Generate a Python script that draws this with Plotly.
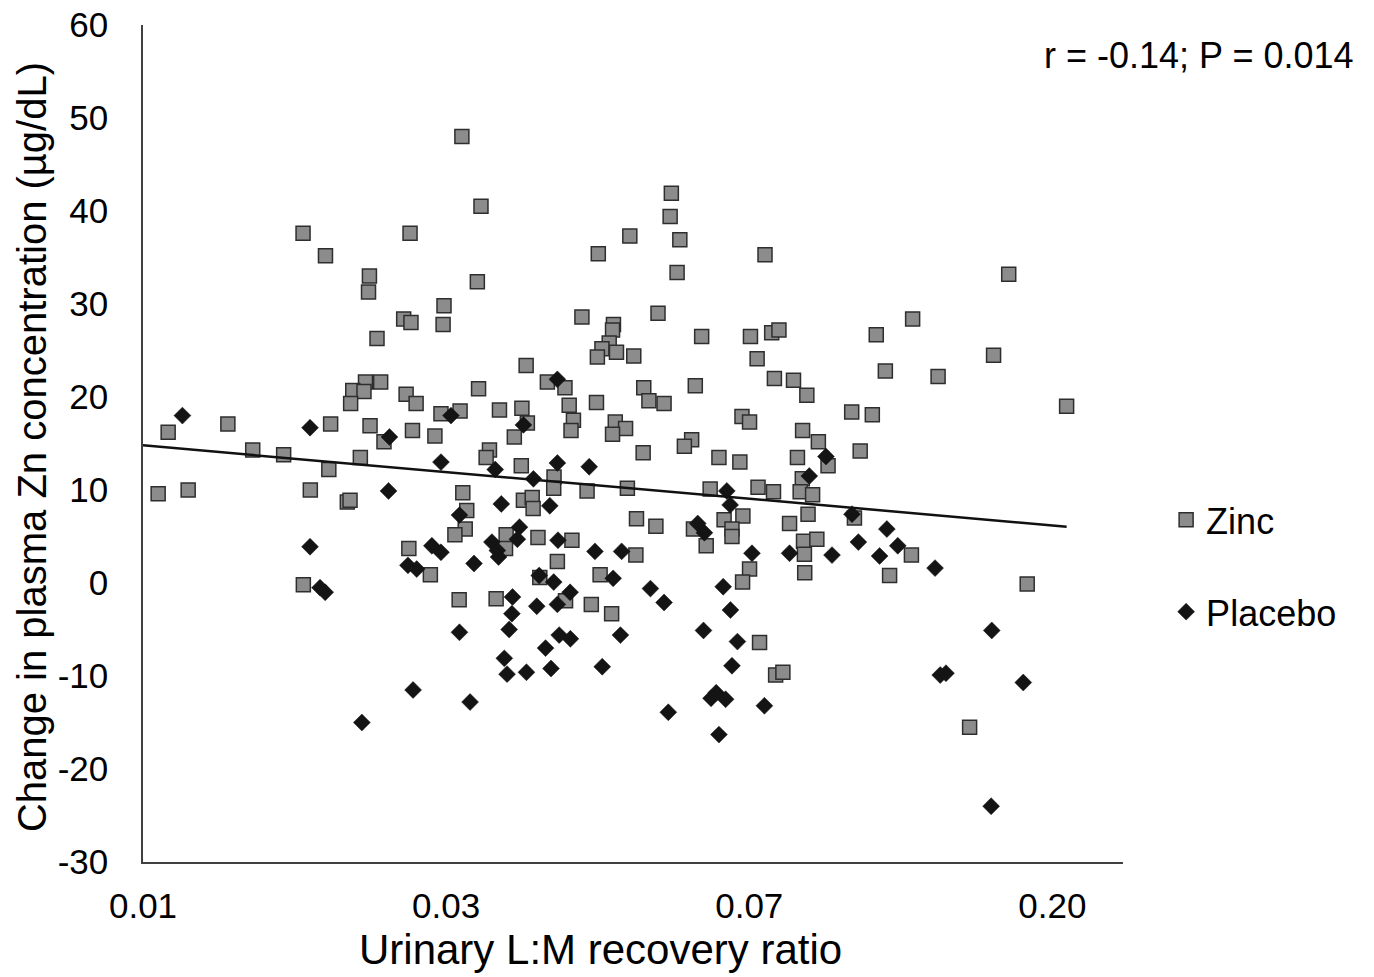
import plotly.graph_objects as go

# x values are positions on the chart's L:M axis scale (tick index: 0 -> 0.01, 1 -> 0.03, 2 -> 0.07, 3 -> 0.20)
tick_pos = [0, 1, 2, 3]
tick_text = ["0.01", "0.03", "0.07", "0.20"]
y_tick_vals = [-30, -20, -10, 0, 10, 20, 30, 40, 50, 60]
y_tick_text = ["-30", "-20", "-10", "0", "10", "20", "30", "40", "50", "60"]

zinc_x = [1.052, 0.528, 0.881, 0.602, 0.747, 0.744, 0.993, 0.860, 0.884, 0.990,
          0.772, 0.734, 0.784, 0.692, 0.729, 0.685, 0.868, 0.901, 0.983, 1.046,
          0.083, 0.280, 0.619, 0.749, 0.795, 0.889, 0.963, 0.362, 0.464, 0.613,
          0.717, 0.050, 0.149, 0.552, 0.674, 0.683, 1.055, 1.068, 1.063, 1.029,
          0.877, 0.948, 0.529, 1.043,
          1.115, 1.103, 1.743, 1.739, 1.606, 1.771, 1.502, 2.052, 1.762, 1.448,
          1.699, 1.552, 1.549, 1.538, 1.514, 1.499, 1.562, 1.619, 1.843, 2.004,
          2.074, 2.098, 2.026, 2.083, 1.264, 1.107, 1.176, 1.250, 1.334, 1.392,
          1.406, 1.420, 1.412, 1.496, 1.652, 1.669, 1.719, 1.822, 1.558, 1.592,
          1.549, 1.268, 1.225, 1.650, 1.810, 1.786, 1.976, 2.001, 1.900, 1.969,
          1.143, 1.132, 1.248, 1.356,
          1.355, 1.255, 1.284, 1.287, 1.465, 1.598, 1.871, 2.029, 2.080, 1.628,
          1.692, 1.816, 1.917, 1.979, 1.943, 1.943, 1.858, 2.133, 1.198, 1.196,
          1.303, 1.415, 1.367, 1.626, 1.508, 1.309, 2.001, 1.978, 1.165, 1.394,
          1.479, 1.546, 2.034, 2.087, 2.111,
          2.856, 2.539, 2.419, 2.806, 2.449, 2.623, 2.146, 2.190, 2.338, 2.406,
          3.047, 2.176, 2.228, 2.159, 2.260, 2.366, 2.175, 2.168, 2.209, 2.194,
          2.347, 2.179, 2.223, 2.182, 2.183, 2.535, 2.463, 2.917, 2.727]
zinc_y = [48.0, 37.6, 37.6, 35.2, 33.0, 31.3, 29.8, 28.4, 28.0, 27.8,
          26.3, 21.6, 21.6, 20.7, 20.6, 19.3, 20.3, 19.3, 18.2, 18.5,
          16.2, 17.1, 17.1, 16.9, 15.2, 16.4, 15.8, 14.3, 13.8, 12.2,
          13.5, 9.6, 10.0, 10.0, 8.7, 8.9, 9.7, 7.8, 5.8, 5.2,
          3.7, 0.9, -0.2, -1.8,
          40.5, 32.4, 41.9, 39.4, 37.3, 36.9, 35.4, 35.3, 33.4, 28.6,
          29.0, 27.8, 27.2, 25.8, 25.2, 24.3, 24.8, 24.4, 26.5, 26.5,
          26.9, 27.2, 24.1, 22.0, 23.4, 20.9, 18.6, 18.8, 21.6, 21.0,
          19.1, 17.5, 16.4, 19.4, 21.0, 19.6, 19.3, 21.2, 17.3, 16.6,
          16.0, 17.2, 15.7, 14.0, 15.4, 14.7, 17.9, 17.3, 13.5, 13.0,
          14.3, 13.5, 12.6, 11.4,
          10.2, 8.9, 9.2, 8.0, 9.9, 10.2, 10.1, 10.3, 9.8, 6.9,
          6.1, 5.8, 6.8, 7.2, 5.8, 5.0, 4.0, 6.4, 5.2, 3.7,
          4.9, 4.6, 2.3, 3.0, 0.9, 0.6, 1.5, 0.1, -1.7, -1.9,
          -2.3, -3.3, -6.4, -9.9, -9.6,
          33.2, 28.4, 26.7, 24.5, 22.8, 22.2, 21.8, 20.2, 18.4, 18.1,
          19.0, 16.4, 15.2, 13.5, 12.6, 14.2, 11.2, 9.8, 9.5, 7.4,
          7.0, 4.5, 4.7, 3.1, 1.1, 3.0, 0.8, -0.1, -15.5]

placebo_x = [0.130, 0.551, 0.813, 1.016, 0.983, 0.810, 1.044, 0.551, 0.953, 0.983,
             0.874, 0.903, 1.092, 0.584, 0.601, 1.044, 0.891, 0.722, 1.079,
             1.367, 1.255, 1.162, 1.367, 1.472, 1.288,
             1.926, 1.937, 1.182, 1.342, 1.242, 1.235, 1.151, 1.169, 1.173, 1.369,
             1.491, 1.579, 1.830, 1.852, 2.009, 2.133, 1.307, 1.355, 1.551, 1.674,
             1.719, 1.914, 1.938, 1.219, 1.217, 1.208, 1.299, 1.409, 1.367, 1.373,
             1.410, 1.575, 1.328, 1.192, 1.201, 1.265, 1.346, 1.515, 1.849, 1.961,
             1.943, 1.733, 1.874, 1.891, 1.922, 2.050, 1.900,
             2.253, 2.198, 2.339, 2.454, 2.360, 2.490, 2.273, 2.430, 2.613,
             2.800, 2.630, 2.649, 2.904, 2.798]
placebo_y = [18.0, 16.7, 15.7, 18.0, 13.0, 9.9, 7.3, 3.9, 4.0, 3.3,
             1.9, 1.5, 2.1, -0.5, -1.0, -5.3, -11.5, -15.0, -12.8,
             21.9, 17.0, 12.2, 12.9, 12.5, 11.2,
             9.9, 8.4, 8.5, 8.3, 6.0, 4.7, 4.4, 3.5, 2.8, 4.6,
             3.4, 3.4, 6.4, 5.4, 3.2, 3.2, 0.8, 0.1, 0.5, -0.6,
             -2.1, -0.4, -2.9, -1.5, -3.3, -5.0, -2.5, -1.0, -2.3, -5.6,
             -6.0, -5.6, -7.0, -8.1, -9.8, -9.6, -9.2, -9.0, -5.1, -6.3,
             -8.9, -13.9, -12.4, -11.8, -12.5, -13.2, -16.3,
             13.6, 11.5, 7.4, 5.8, 4.4, 4.0, 3.0, 2.9, 1.6,
             -5.1, -9.9, -9.7, -10.7, -24.0]

# linear trend (intercept at axis origin, slope per tick step)
trend_intercept = 14.8
trend_slope = -2.87

assert len(zinc_x) == len(zinc_y)
assert len(placebo_x) == len(placebo_y)

FONT = "Liberation Sans, Arial, Helvetica, sans-serif"

fig = go.Figure()

fig.add_trace(go.Scatter(
    x=zinc_x, y=zinc_y, mode="markers", name="Zinc", legendgroup="z",
    marker=dict(symbol="square", size=14, color="#8c8c8c",
                line=dict(color="#2e2e2e", width=1.5)),
))
fig.add_trace(go.Scatter(
    x=placebo_x, y=placebo_y, mode="markers", name="Placebo", legendgroup="p",
    marker=dict(symbol="diamond", size=13, color="#141414",
                line=dict(color="#141414", width=0.5)),
))

x_end = max(max(zinc_x), max(placebo_x))
trend_x = [0, x_end]
trend_y = [trend_intercept + trend_slope * v for v in trend_x]
fig.add_trace(go.Scatter(
    x=trend_x, y=trend_y, mode="lines", showlegend=False,
    line=dict(color="#111111", width=2.5), hoverinfo="skip",
))

fig.update_layout(
    width=1374, height=977,
    margin=dict(l=143, r=251, t=25, b=115, autoexpand=False),
    paper_bgcolor="white", plot_bgcolor="white",
    font=dict(family=FONT, size=36, color="#000000"),
    showlegend=True,
    legend=dict(x=1.044, y=0.4445, xanchor="left", yanchor="top",
                font=dict(size=36, family=FONT), tracegroupgap=42,
                bgcolor="rgba(0,0,0,0)", itemwidth=30),
    xaxis=dict(range=[0, 3.233], tickmode="array", tickvals=tick_pos, ticktext=tick_text,
               showgrid=False, zeroline=False, showline=True, linecolor="#404040",
               linewidth=1.5, ticks="", tickfont=dict(size=35), ticklabelstandoff=12,
               ticklabeloverflow="allow", automargin=False),
    yaxis=dict(range=[-30, 60], tickmode="array", tickvals=y_tick_vals, ticktext=y_tick_text,
               showgrid=False, zeroline=False, showline=True, linecolor="#404040",
               linewidth=1.5, ticks="", tickfont=dict(size=35), ticklabelstandoff=26,
               ticklabeloverflow="allow", automargin=False),
    annotations=[
        dict(text="Urinary L:M recovery ratio", xref="paper", yref="paper",
             x=0.4669, y=-0.105, xanchor="center", yanchor="middle",
             showarrow=False, font=dict(size=42, family=FONT)),
        dict(text="Change in plasma Zn concentration (µg/dL)", xref="paper", yref="paper",
             x=-0.113, y=0.496, xanchor="center", yanchor="middle", textangle=-90,
             showarrow=False, font=dict(size=40, family=FONT)),
        dict(text="r = -0.14; P = 0.014", xref="paper", yref="paper",
             x=1.2375, y=0.964, xanchor="right", yanchor="middle",
             showarrow=False, font=dict(size=36, family=FONT)),
    ],
)

# remove the default 8 px page margin so the figure sits at the window's top-left corner
fig.write_html("out.html", config={"displayModeBar": False},
               post_script="document.body.style.margin='0';")
